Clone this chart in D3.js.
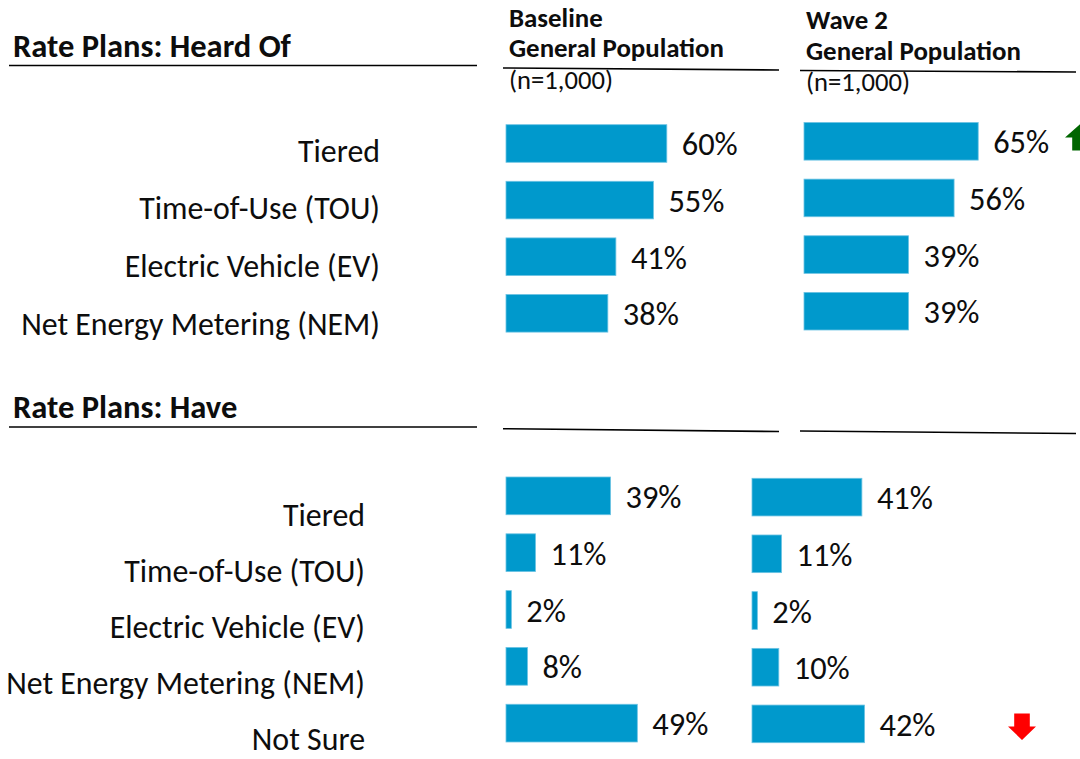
<!DOCTYPE html>
<html>
<head>
<meta charset="utf-8">
<script src="https://cdn.jsdelivr.net/npm/d3@7"></script>
<style>
  html, body { margin: 0; padding: 0; background: #ffffff; }
  svg { display: block; font-family: Carlito, Lato, "Open Sans", sans-serif; }
</style>
</head>
<body>
<svg id="chart" width="1080" height="759"></svg>
<script>
// ---------------- data ----------------
const sectionTitles = ["Rate Plans: Heard Of", "Rate Plans: Have"];
const waveTitles = ["Baseline", "Wave 2"];
const waveSubtitle = "General Population";
const waveSample = "(n=1,000)";

const heardCategories = ["Tiered", "Time-of-Use (TOU)", "Electric Vehicle (EV)", "Net Energy Metering (NEM)"];
const heardBaseline = [60, 55, 41, 38];
const heardWave2 = [65, 56, 39, 39];

const haveCategories = ["Tiered", "Time-of-Use (TOU)", "Electric Vehicle (EV)", "Net Energy Metering (NEM)", "Not Sure"];
const haveBaseline = [39, 11, 2, 8, 49];
const haveWave2 = [41, 11, 2, 10, 42];

// significant changes, Wave 2 vs Baseline
const heardWave2Change = ["up", null, null, null];
const haveWave2Change = [null, null, null, null, "down"];

// ---------------- drawing ----------------
const svg = d3.select("#chart");
const BAR = "#0099cc";
const TEXT = "#0d0d0d";

// fit font sizes to the reference widths
function fitSize(str, weight, target) {
  const t = svg.append("text").attr("font-size", 20).attr("font-weight", weight).text(str);
  const w = t.node().getComputedTextLength();
  t.remove();
  return 20 * target / w;
}
const catSize = fitSize("Net Energy Metering (NEM)", "normal", 359);
const valSize = fitSize("60%", "normal", 56);
const secSize = fitSize("Rate Plans: Heard Of", "bold", 278);
const hdrSize = fitSize("General Population", "bold", 215);
const nSize = fitSize("(n=1,000)", "normal", 104);

// value scale shared by all panels (px per percent)
const x = d3.scaleLinear().domain([0, 100]).range([0, 268]);

// ---- section titles and their rules
const sections = [
  { title: sectionTitles[0], baseline: 57, rule: 65.5 },
  { title: sectionTitles[1], baseline: 418, rule: 427 }
];
sections.forEach(s => {
  svg.append("text").attr("x", 13).attr("y", s.baseline)
    .attr("font-size", secSize).attr("font-weight", "bold").attr("fill", TEXT).text(s.title);
  svg.append("line").attr("x1", 9).attr("x2", 477).attr("y1", s.rule).attr("y2", s.rule)
    .attr("stroke", "#000").attr("stroke-width", 1.6);
});

// ---- column headers
const headers = [
  { title: waveTitles[0], x: 509, b1: 26.5, b2: 57, b3: 89 },
  { title: waveTitles[1], x: 806, b1: 28.5, b2: 60, b3: 91 }
];
headers.forEach(h => {
  svg.append("text").attr("x", h.x).attr("y", h.b1).attr("font-size", hdrSize)
    .attr("font-weight", "bold").attr("fill", TEXT).text(h.title);
  svg.append("text").attr("x", h.x).attr("y", h.b2).attr("font-size", hdrSize)
    .attr("font-weight", "bold").attr("fill", TEXT).text(waveSubtitle);
  svg.append("text").attr("x", h.x).attr("y", h.b3).attr("font-size", nSize)
    .attr("fill", TEXT).text(waveSample);
});

// column rules (slightly sloped, as in the reference)
const rules = [
  [503, 68, 779, 70], [800, 70.5, 1076, 72],
  [503, 428.7, 779, 431.5], [800, 431, 1076, 433.5]
];
rules.forEach(r => {
  svg.append("line").attr("x1", r[0]).attr("y1", r[1]).attr("x2", r[2]).attr("y2", r[3])
    .attr("stroke", "#000").attr("stroke-width", 1.6);
});

// ---- category labels
function drawLabels(cats, rightX, firstBaseline, lastBaseline) {
  const y = d3.scalePoint().domain(cats).range([firstBaseline, lastBaseline]);
  svg.append("g").selectAll("text").data(cats).join("text")
    .attr("x", rightX).attr("y", d => y(d))
    .attr("text-anchor", "end").attr("font-size", catSize).attr("fill", TEXT)
    .text(d => d);
}
drawLabels(heardCategories, 380, 161.5, 334.5);
drawLabels(haveCategories, 365, 525.5, 750);

// ---- bar panels
function drawPanel(cats, values, x0, yTop, yBottom) {
  const y = d3.scaleBand().domain(cats).range([yTop, yBottom]).paddingInner(0.336).paddingOuter(0);
  const g = svg.append("g").attr("transform", `translate(${x0},0)`);
  const rows = cats.map((c, i) => ({ c, v: values[i] }));
  g.selectAll("rect").data(rows).join("rect")
    .attr("x", x(0)).attr("y", d => y(d.c))
    .attr("width", d => x(d.v)).attr("height", y.bandwidth())
    .attr("fill", BAR).attr("stroke", "#6cc3e3").attr("stroke-width", 0.8);
  g.selectAll("text.val").data(rows).join("text").attr("class", "val")
    .attr("x", d => x(d.v) + 15).attr("y", d => y(d.c) + y.bandwidth() / 2 + 12)
    .attr("font-size", valSize).attr("fill", TEXT)
    .text(d => d.v + "%");
  return y;
}
const yHB = drawPanel(heardCategories, heardBaseline, 506, 124.7, 332.1);
const yHW = drawPanel(heardCategories, heardWave2, 804, 122.5, 330);
const yVB = drawPanel(haveCategories, haveBaseline, 506, 477, 742);
const yVW = drawPanel(haveCategories, haveWave2, 752, 478.3, 742.7);

// ---- significance arrows
function arrowUp(cx, tip, headBase, bottom, hw, sw) {
  return `M${cx},${tip} L${cx + hw},${headBase} L${cx + sw},${headBase} L${cx + sw},${bottom} ` +
         `L${cx - sw},${bottom} L${cx - sw},${headBase} L${cx - hw},${headBase} Z`;
}
function arrowDown(cx, top, headBase, tip, hw, sw) {
  return `M${cx - sw},${top} L${cx + sw},${top} L${cx + sw},${headBase} L${cx + hw},${headBase} ` +
         `L${cx},${tip} L${cx - hw},${headBase} L${cx - sw},${headBase} Z`;
}
heardWave2Change.forEach((ch, i) => {
  if (ch === "up") {
    const yc = yHW(heardCategories[i]) + yHW.bandwidth() / 2;
    svg.append("path").attr("d", arrowUp(1080.5, yc - 17.5, yc - 3.8, yc + 9.2, 15.5, 8.3))
      .attr("fill", "#006600");
  }
});
haveWave2Change.forEach((ch, i) => {
  if (ch === "down") {
    const yc = yVW(haveCategories[i]) + yVW.bandwidth() / 2;
    svg.append("path").attr("d", arrowDown(1022, yc - 10.5, yc + 2.7, yc + 16, 14, 7.8))
      .attr("fill", "#ff0000");
  }
});
</script>
</body>
</html>
